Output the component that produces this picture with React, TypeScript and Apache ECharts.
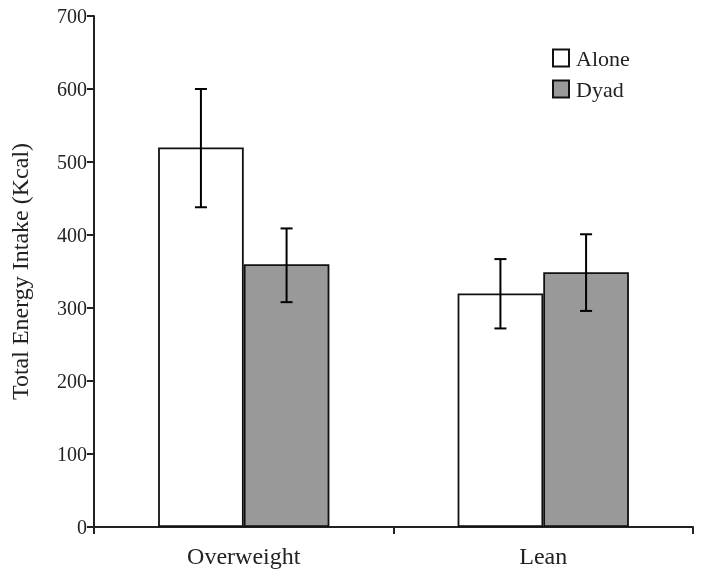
import React, { useEffect, useRef } from "react";
import * as echarts from "echarts";

const categories = ["Overweight", "Lean"];
const seriesNames = ["Alone", "Dyad"];
const aloneValues = [520, 320];
const dyadValues = [360, 349];
const aloneErrLow = [438, 272];
const aloneErrHigh = [600, 367];
const dyadErrLow = [308, 296];
const dyadErrHigh = [409, 401];
const yTicks = [0, 100, 200, 300, 400, 500, 600, 700];

const FONT = "'Liberation Serif', 'DejaVu Serif', serif";
const BAR_FRAC = 0.286;

export default function App() {
  const ref = useRef<HTMLDivElement>(null);
  useEffect(() => {
    if (!ref.current) return;
    const chart = echarts.init(ref.current, null, { renderer: "svg" });
    const makeErr = (low: number[], high: number[], side: number) => ({
      type: "custom",
      silent: true,
      z: 10,
      renderItem: (params: any, api: any) => {
        const idx = api.value(0);
        const lo = api.coord([idx, api.value(1)]);
        const hi = api.coord([idx, api.value(2)]);
        const band = api.size([1, 0])[0];
        const x = lo[0] + side * band * BAR_FRAC / 2;
        const cap = 6;
        const style = { stroke: "#000", lineWidth: 2 };
        return {
          type: "group",
          children: [
            { type: "line", shape: { x1: x, y1: lo[1], x2: x, y2: hi[1] }, style },
            { type: "line", shape: { x1: x - cap, y1: hi[1], x2: x + cap, y2: hi[1] }, style },
            { type: "line", shape: { x1: x - cap, y1: lo[1], x2: x + cap, y2: lo[1] }, style },
          ],
        };
      },
      data: categories.map((_, i) => [i, low[i], high[i]]),
    });
    chart.setOption({
      animation: false,
      grid: { left: 92, right: 11, top: 16, bottom: 54 },
      legend: {
        data: seriesNames,
        orient: "vertical",
        left: 547,
        top: 42,
        icon: "rect",
        itemWidth: 16,
        itemHeight: 17,
        itemGap: 9,
        textStyle: { fontFamily: FONT, fontSize: 22, color: "#222", padding: [0, 0, 0, 2] },
      },
      xAxis: {
        type: "category",
        data: categories,
        axisLine: { lineStyle: { color: "#222", width: 2 } },
        axisTick: { show: true, length: 7, inside: false, lineStyle: { color: "#222", width: 2 } },
        axisLabel: { fontFamily: FONT, fontSize: 24, color: "#222", margin: 17 },
      },
      yAxis: {
        type: "value",
        min: yTicks[0],
        max: yTicks[yTicks.length - 1],
        interval: 100,
        name: "Total Energy Intake (Kcal)",
        nameLocation: "middle",
        nameGap: 62,
        nameTextStyle: { fontFamily: FONT, fontSize: 24, color: "#222" },
        axisLine: { show: true, lineStyle: { color: "#222", width: 2 } },
        axisTick: { show: true, length: 7, lineStyle: { color: "#222", width: 2 } },
        axisLabel: { fontFamily: FONT, fontSize: 20, color: "#222", margin: 7 },
        splitLine: { show: false },
      },
      series: [
        {
          name: "Alone",
          type: "bar",
          data: aloneValues,
          barWidth: BAR_FRAC * 100 + "%",
          barGap: "0%",
          itemStyle: { color: "#ffffff", borderColor: "#111", borderWidth: 1.8 },
        },
        {
          name: "Dyad",
          type: "bar",
          data: dyadValues,
          barWidth: BAR_FRAC * 100 + "%",
          barGap: "0%",
          itemStyle: { color: "#999999", borderColor: "#111", borderWidth: 1.8 },
        },
        makeErr(aloneErrLow, aloneErrHigh, -1),
        makeErr(dyadErrLow, dyadErrHigh, 1),
      ],
    });
    return () => chart.dispose();
  }, []);
  return (
    <div
      ref={ref}
      style={{ position: "fixed", left: 0, top: 0, width: 704, height: 581 }}
    />
  );
}
